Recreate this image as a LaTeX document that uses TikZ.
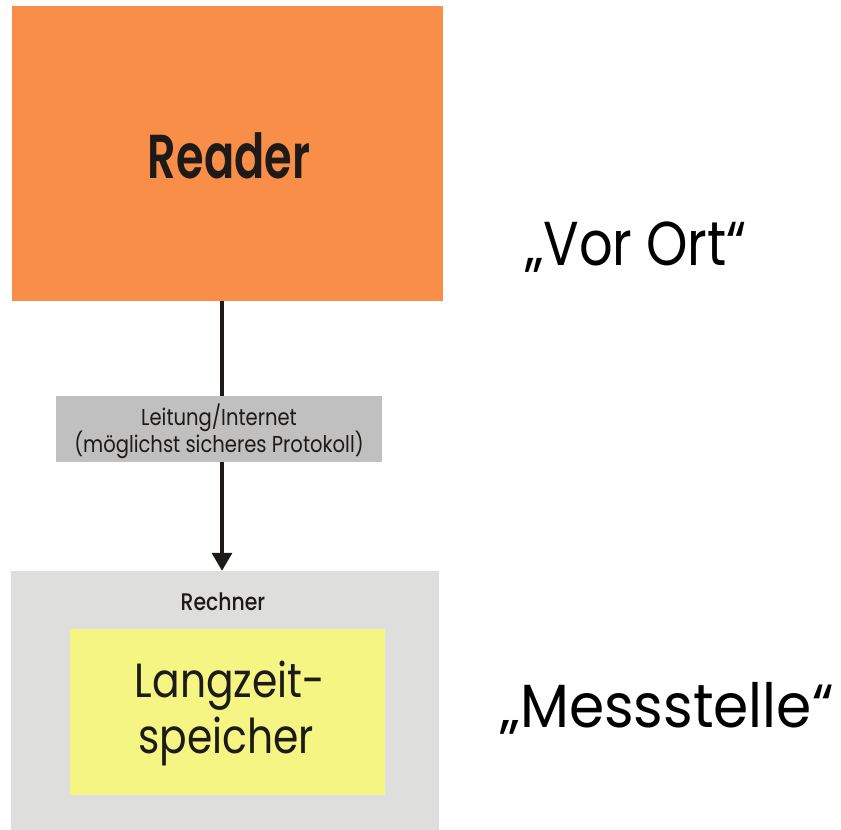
\documentclass[tikz,border=0pt]{standalone}
\usepackage{fontspec}
\setmainfont{Poppins}[FakeStretch=0.85]
\newfontfamily\boldpop{Poppins SemiBold}[FakeStretch=0.72]
\newfontfamily\medpop{Poppins Medium}[FakeStretch=0.85]
\newfontfamily\widepop{Poppins}[FakeStretch=0.93]
\usetikzlibrary{arrows.meta}
\definecolor{readerorange}{HTML}{F98E49}
\definecolor{labelgray}{HTML}{C0C0C0}
\definecolor{rechnergray}{HTML}{DEDEDC}
\definecolor{memyellow}{HTML}{F5F584}
\definecolor{inkdark}{HTML}{1E1A17}
\tikzset{
  box/.style={rectangle, draw=none, inner sep=0pt},
  txt/.style={anchor=base, inner sep=0pt, text=inkdark},
}
\begin{document}
\begin{tikzpicture}[x=1pt,y=-1pt]
\useasboundingbox (0,0) rectangle (841,830);
% boxes
\node[box, fill=readerorange, minimum width=431pt, minimum height=295pt] (reader) at (227.5,153.5) {};
\node[box, fill=rechnergray, minimum width=428pt, minimum height=259pt] (rechner) at (225,700.5) {};
\node[box, fill=memyellow, minimum width=315pt, minimum height=166pt] (speicher) at (227.5,712) {};
% arrow
\draw[inkdark, line width=3.5pt, -{Triangle[width=20pt,length=18pt]}] (reader.south -| 222,0) -- (rechner.north -| 222,0);
% label box on the line
\node[box, fill=labelgray, minimum width=326pt, minimum height=66pt] (leitung) at (219,429) {};
% texts
\node[txt, font=\boldpop\fontsize{62}{62}\selectfont] (readertxt) at (229,178) {Reader};
\node[txt, font=\fontsize{23}{23}\selectfont] (leit1) at (219,425) {Leitung/Internet};
\node[txt, font=\fontsize{23}{23}\selectfont] (leit2) at (219,452) {(möglichst sicheres Protokoll)};
\node[txt, font=\medpop\fontsize{24}{24}\selectfont] (rechnertxt) at (223,610) {Rechner};
\node[txt, font=\fontsize{48}{48}\selectfont] (lz1) at (230,697) {Langzeit-};
\node[txt, font=\fontsize{48}{48}\selectfont] (lz2) at (226,753) {speicher};
\node[txt, text=black, font=\fontsize{62}{62}\selectfont] (vorort) at (636,265) {„Vor Ort“};
\node[txt, text=black, font=\widepop\fontsize{61}{61}\selectfont] (mess) at (667,727) {„Messstelle“};
\end{tikzpicture}
\end{document}
